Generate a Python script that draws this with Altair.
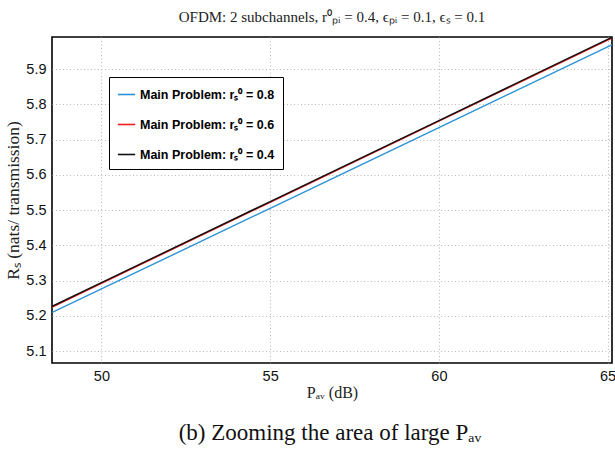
import altair as alt
import pandas as pd

# ---- data ----
p_av = [48, 50, 55, 60, 65, 66]
rs_08 = [5.185, 5.276, 5.505, 5.734, 5.963, 6.009]
rs_06 = [5.200, 5.292, 5.522, 5.752, 5.982, 6.028]
rs_04 = [5.202, 5.294, 5.524, 5.754, 5.984, 6.030]

series_labels = [
    "Main Problem: rₛ⁰ = 0.8",
    "Main Problem: rₛ⁰ = 0.6",
    "Main Problem: rₛ⁰ = 0.4",
]
series_colors = ["#2a93d5", "#f21d1d", "#111111"]
x_ticks = [50, 55, 60, 65]
y_ticks = [5.1, 5.2, 5.3, 5.4, 5.5, 5.6, 5.7, 5.8, 5.9]

rows = []
for lab, vals in zip(series_labels, [rs_08, rs_06, rs_04]):
    for x, y in zip(p_av, vals):
        rows.append({"P": x, "R": y, "series": lab})
df = pd.DataFrame(rows)

W, H = 560, 326
serif = "Liberation Serif"
sans = "Liberation Sans"

lines = alt.Chart(df).mark_line(strokeWidth=1.4, clip=True).encode(
    x=alt.X("P:Q",
            scale=alt.Scale(domain=[48.535, 65.13], nice=False, zero=False),
            axis=alt.Axis(values=x_ticks, title="Pₐᵥ (dB)", format="d",
                          titleFontSize=16)),
    y=alt.Y("R:Q",
            scale=alt.Scale(domain=[5.066, 5.991], nice=False, zero=False),
            axis=alt.Axis(values=y_ticks, title="Rₛ (nats/ transmission)", format=".1f",
                          titleFontSize=17.5)),
    color=alt.Color("series:N",
                    scale=alt.Scale(domain=series_labels, range=series_colors),
                    sort=series_labels,
                    legend=alt.Legend(
                        title=None, orient="none", legendX=57, legendY=40,
                        symbolType="stroke", symbolSize=300, symbolStrokeWidth=1.6,
                        labelFont=sans,
                        labelFontWeight="bold", labelFontSize=12.5, labelColor="#000",
                        rowPadding=14, padding=8, strokeColor="#000",
                        fillColor="#fff", labelLimit=300)),
    detail="series:N",
)

caption = alt.Chart(pd.DataFrame({"t": ["(b) Zooming the area of large Pₐᵥ"]})).mark_text(
    font=serif, fontSize=23, color="#111", align="center", baseline="middle"
).encode(text="t:N", x=alt.value(W / 2 - 2), y=alt.value(H + 70))

chart = alt.layer(lines, caption).properties(
    width=W, height=H,
    title=alt.TitleParams("OFDM: 2 subchannels, r⁰ₚᵢ = 0.4, ϵₚᵢ = 0.1, ϵₛ = 0.1",
                          font=serif, fontSize=15, fontWeight="normal",
                          color="#222", anchor="middle", offset=12),
    autosize=alt.AutoSizeParams(type="none"),
    padding={"left": 52, "top": 37, "right": 3, "bottom": 95},
    background="white",
).configure_view(stroke="#000", strokeWidth=1.6).configure_axis(
    domain=False, ticks=False,
    grid=True, gridColor="#b8b8b8", gridDash=[1, 2.5], gridWidth=1,
    labelFont=sans, labelFontSize=14.5, labelColor="#111",
    titleFont=serif, titleFontWeight="normal", titleColor="#222",
).configure_axisX(labelPadding=6, titlePadding=2).configure_axisY(labelPadding=6, titlePadding=3)

chart.save("out.html", embed_options={"renderer": "svg", "actions": False})
